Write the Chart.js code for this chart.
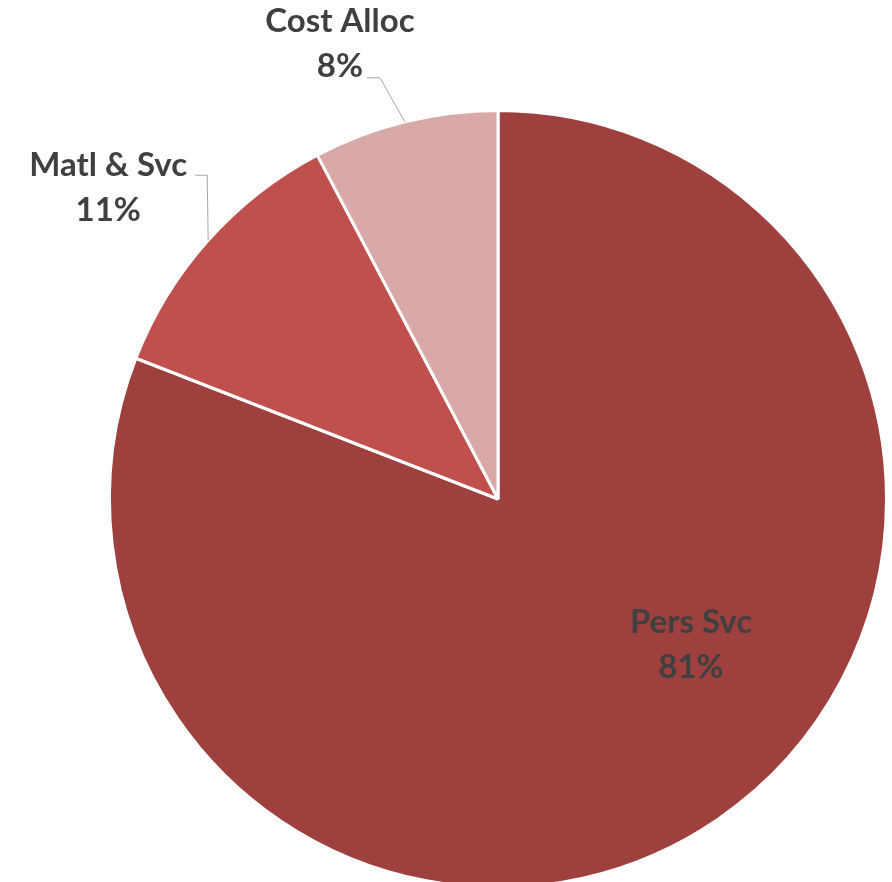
<!DOCTYPE html>
<html>
<head>
<meta charset="utf-8">
<script src="https://cdn.jsdelivr.net/npm/chart.js@4/dist/chart.umd.min.js"></script>
<style>
    html, body { margin: 0; padding: 0; background: #ffffff; overflow: hidden; }
    #wrap { width: 892px; height: 900px; }
</style>
</head>
<body>
<div id="wrap"><canvas id="chart" width="892" height="900"></canvas></div>
<script>
// --- Data ---
const categories = ['Pers Svc', 'Matl & Svc', 'Cost Alloc'];
const shares = [80.9, 11.4, 7.7];
const percentLabels = ['81%', '11%', '8%'];

// --- Slice colours ---
const SLICE_COLORS = ['#9D403E', '#C0504D', '#D9A9A9'];

/**
 * Draws Excel-like data labels: one inside the big slice,
 * the others outside with an elbow leader line
 */
const pieLabels = {
    id: 'pieLabels',
    afterDatasetsDraw(chart, args, opts) {
        const ctx = chart.ctx;
        const arcs = chart.getDatasetMeta(0).data;
        ctx.save();
        ctx.font = opts.font;
        ctx.fillStyle = opts.color;
        ctx.textAlign = 'center';
        ctx.textBaseline = 'middle';

        arcs.forEach((arc, i) => {
            const p = arc.getProps(['x', 'y', 'startAngle', 'endAngle', 'outerRadius'], true);
            const place = opts.places[i];
            const mid = (p.startAngle + p.endAngle) / 2;
            let tx, ty;

            if (place.inside) {
                tx = p.x + place.dx;
                ty = p.y + place.dy;
            } else {
                // leader line from the slice edge, up to an elbow, then across
                const ex = p.x + Math.cos(mid) * p.outerRadius;
                const ey = p.y + Math.sin(mid) * p.outerRadius;
                ctx.strokeStyle = '#A6A6A6';
                ctx.lineWidth = 1;
                ctx.beginPath();
                ctx.moveTo(ex, ey);
                ctx.lineTo(ex + place.elbow[0], ey + place.elbow[1]);
                ctx.lineTo(ex + place.end[0], ey + place.end[1]);
                ctx.stroke();
                tx = ex + place.dx;
                ty = ey + place.dy;
            }
            ctx.fillText(chart.data.labels[i], tx, ty - opts.lineGap / 2);
            ctx.fillText(percentLabels[i], tx, ty + opts.lineGap / 2);
        });
        ctx.restore();
    }
};

new Chart(document.getElementById('chart'), {
    type: 'pie',
    data: {
        labels: categories,
        datasets: [{
            data: shares,
            backgroundColor: SLICE_COLORS,
            borderColor: '#ffffff',
            borderWidth: 3,
            hoverOffset: 0
        }]
    },
    options: {
        responsive: false,
        animation: false,
        layout: { padding: { left: 108, top: 109, right: 4, bottom: 11 } },
        plugins: {
            legend: { display: false },
            tooltip: { enabled: false },
            pieLabels: {
                font: "bold 33px Lato, 'Open Sans', sans-serif",
                color: '#404040',
                lineGap: 45,
                places: [
                    { inside: true, dx: 193, dy: 146 },
                    { dx: -100, dy: -52, elbow: [-1, -65], end: [-13, -65] },
                    { dx: -65, dy: -78, elbow: [-25, -44], end: [-38, -44] }
                ]
            }
        }
    },
    plugins: [pieLabels]
});
</script>
</body>
</html>
